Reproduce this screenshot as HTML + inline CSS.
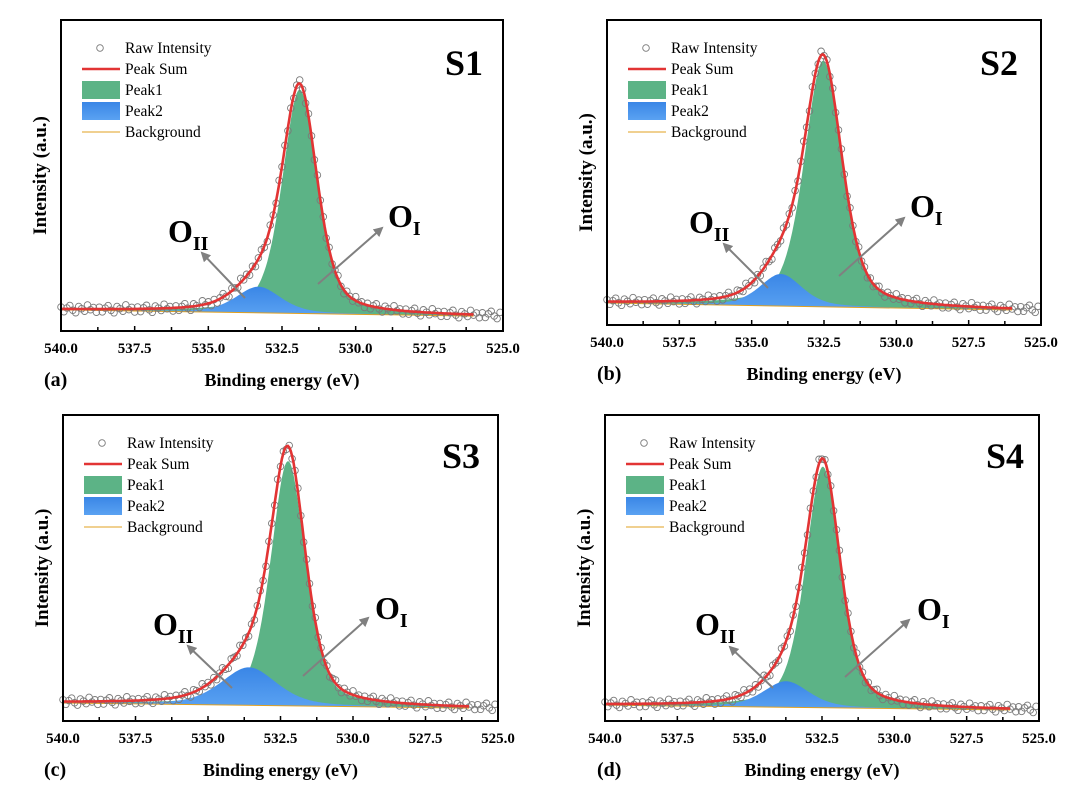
<!DOCTYPE html>
<html><head><meta charset="utf-8">
<style>
html,body{margin:0;padding:0;background:#fff;}
svg{display:block;font-family:"Liberation Serif",serif;}
</style></head>
<body>
<svg id="fig" width="1080" height="796" viewBox="0 0 1080 796" xmlns="http://www.w3.org/2000/svg">
<defs>
<linearGradient id="blueGrad" x1="0" y1="0" x2="0" y2="1">
<stop offset="0" stop-color="#3a86e6"/><stop offset="1" stop-color="#5aa2f2"/>
</linearGradient>
<marker id="arrowHead" viewBox="0 0 10 10" refX="8" refY="5" markerWidth="5" markerHeight="5" orient="auto">
<path d="M0,0 L10,5 L0,10 z" fill="#808080"/>
</marker>
</defs>
</svg>
<script>
// Per-sample fit parameters (intensity in % of frame height)
const sampleNames = ["S1","S2","S3","S4"];
const panelLetters = ["(a)","(b)","(c)","(d)"];
const peak1Center = [531.9, 532.53, 532.24, 532.47];
const peak1Height = [72, 80.7, 80, 78.8];
const peak1Fwhm = [1.4, 1.55, 1.42, 1.42];
const peak2Center = [533.3, 533.99, 533.59, 533.74];
const peak2Height = [8.4, 10.5, 12.4, 8.5];
const peak2Fwhm = [1.8, 1.73, 2.28, 1.87];
const bgLeft = [6.8, 7.2, 5.9, 5.2];
const bgRight = [4.8, 4.9, 4.2, 3.6];
const rawNoise = [0.6, -0.9, 0.3, 1.1, -0.4, -1.2, 0.8, 0.1, -0.7, 1.3, -0.2, 0.5, -1.0];
const xTicks = [540.0, 537.5, 535.0, 532.5, 530.0, 527.5, 525.0];
const xTickLabels = ["540.0","537.5","535.0","532.5","530.0","527.5","525.0"];
const xMinorTicks = [538.75, 536.25, 533.75, 531.25, 528.75, 526.25];
const legendLabels = ["Raw Intensity","Peak Sum","Peak1","Peak2","Background"];

const frames = [
 {x0:61,x1:503,y0:20,y1:331, oI:[318,284,382,228], oII:[245,298,202,253], oIlab:[388,227], oIIlab:[168,242], sx:483, sy:75, lx:44},
 {x0:607,x1:1041,y0:20,y1:325, oI:[839,276,904,218], oII:[768,288,724,244], oIlab:[910,217], oIIlab:[689,233], sx:1018, sy:75, lx:597},
 {x0:63,x1:498,y0:415,y1:721, oI:[303,676,368,618], oII:[232,688,188,646], oIlab:[375,619], oIIlab:[153,635], sx:480, sy:468, lx:44},
 {x0:605,x1:1039,y0:415,y1:721, oI:[845,677,909,620], oII:[773,688,730,647], oIlab:[917,620], oIIlab:[695,635], sx:1024, sy:468, lx:597}
];
const NS="http://www.w3.org/2000/svg";
const svg=document.getElementById('fig');
function mk(tag,attrs,parent,text){const e=document.createElementNS(NS,tag);for(const k in attrs)e.setAttribute(k,attrs[k]);if(text!==undefined)e.textContent=text;(parent||svg).appendChild(e);return e;}
function pv(x,c,h,w){const eta=0.45;const d=(x-c)/(w/2);return h*(eta/(1+d*d)+(1-eta)*Math.exp(-Math.LN2*d*d));}

frames.forEach((f,i)=>{
  const g=mk('g',{});
  
  
  const X=e=>f.x0+(540-e)/15*(f.x1-f.x0);
  const Y=v=>f.y1-v/100*(f.y1-f.y0);
  const bg=e=>bgLeft[i]+(bgRight[i]-bgLeft[i])*(540-e)/14;
  const p1=e=>pv(e,peak1Center[i],peak1Height[i],peak1Fwhm[i]);
  const p2=e=>pv(e,peak2Center[i],peak2Height[i],peak2Fwhm[i]);
  const es=[];for(let k=0;k<=280;k++)es.push(540-k*0.05);
  let d='M'+X(540)+','+Y(bg(540));es.forEach(e=>d+='L'+X(e).toFixed(1)+','+Y(bg(e)+p1(e)).toFixed(1));
  for(let k=es.length-1;k>=0;k--)d+='L'+X(es[k]).toFixed(1)+','+Y(bg(es[k])).toFixed(1);
  const a1=mk('path',{d:d+'Z',fill:'#5cb386'},g);
  
  d='M'+X(540)+','+Y(bg(540));es.forEach(e=>d+='L'+X(e).toFixed(1)+','+Y(bg(e)+p2(e)).toFixed(1));
  for(let k=es.length-1;k>=0;k--)d+='L'+X(es[k]).toFixed(1)+','+Y(bg(es[k])).toFixed(1);
  const a2=mk('path',{d:d+'Z',fill:'url(#blueGrad)'},g);
  
  const bl=mk('line',{x1:X(540),y1:Y(bg(540)),x2:X(526),y2:Y(bg(526)),stroke:'#e0a020','stroke-width':1},g);
  
  let n=0;
  for(let e=540;e>=525.05;e-=0.1){
    const v=bg(Math.max(e,526))+p1(e)+p2(e)+rawNoise[n%rawNoise.length];
    const c=mk('circle',{cx:X(e).toFixed(1),cy:Y(v).toFixed(1),r:3.3,fill:'none',stroke:'#7a7a7a','stroke-width':0.9},g);
    
    n++;
  }
  d='';es.forEach((e,k)=>d+=(k?'L':'M')+X(e).toFixed(1)+','+Y(bg(e)+p1(e)+p2(e)).toFixed(1));
  const ps=mk('path',{d:d,fill:'none',stroke:'#e23434','stroke-width':2.6},g);
  
  const fr=mk('rect',{x:f.x0,y:f.y0,width:f.x1-f.x0,height:f.y1-f.y0,fill:'none',stroke:'#000','stroke-width':2},g);
  
  xTicks.forEach((t,k)=>{
    const tl=mk('line',{x1:X(t),x2:X(t),y1:f.y1,y2:f.y1-5,stroke:'#000','stroke-width':1.5},g);
    
    const tx=mk('text',{x:X(t),y:f.y1+22,'text-anchor':'middle','font-size':15,'font-weight':'bold'},g,xTickLabels[k]);
    
  });
  xMinorTicks.forEach(t=>{
    const tl=mk('line',{x1:X(t),x2:X(t),y1:f.y1,y2:f.y1-4,stroke:'#000','stroke-width':1.5},g);
    
  });
  const xt=mk('text',{x:(f.x0+f.x1)/2,y:f.y1+55,'text-anchor':'middle','font-size':18,'font-weight':'bold'},g,'Binding energy (eV)');
  
  const cy=(f.y0+f.y1)/2, yx=f.x0-15;
  const yt=mk('text',{x:yx,y:cy,'text-anchor':'middle','font-size':19,'font-weight':'bold',transform:`rotate(-90 ${yx} ${cy})`},g,'Intensity (a.u.)');
  
  const pl=mk('text',{x:f.lx,y:f.y1+55,'font-size':20,'font-weight':'bold'},g,panelLetters[i]);
  
  const sl=mk('text',{x:f.sx,y:f.sy,'text-anchor':'end','font-size':36,'font-weight':'bold'},g,sampleNames[i]);
  
  const lx=f.x0+21, ly=f.y0+28;
  legendLabels.forEach((lab,k)=>{
    const yy=ly+k*21;
    let m;
    if(k===0)m=mk('circle',{cx:lx+18,cy:yy,r:3.3,fill:'none',stroke:'#7a7a7a','stroke-width':0.9},g);
    else if(k===1)m=mk('line',{x1:lx,x2:lx+38,y1:yy,y2:yy,stroke:'#e23434','stroke-width':2.6},g);
    else if(k===2)m=mk('rect',{x:lx,y:yy-9,width:38,height:18,fill:'#5cb386'},g);
    else if(k===3)m=mk('rect',{x:lx,y:yy-9,width:38,height:18,fill:'url(#blueGrad)'},g);
    else m=mk('line',{x1:lx,x2:lx+38,y1:yy,y2:yy,stroke:'#e0a020','stroke-width':1},g);
    
    const t=mk('text',{x:lx+43,y:yy+5,'font-size':15.5},g,lab);
    
  });
  [[f.oI,'arrow-o1'],[f.oII,'arrow-o2']].forEach(([p,nm])=>{
    const l=mk('line',{x1:p[0],y1:p[1],x2:p[2],y2:p[3],stroke:'#808080','stroke-width':2,'marker-end':'url(#arrowHead)'},g);
    
  });
  const t1=mk('text',{x:f.oIlab[0],y:f.oIlab[1],'font-size':32,'font-weight':'bold'},g);
  
  mk('tspan',{},t1,'O');mk('tspan',{dy:8,'font-size':20},t1,'I');
  const t2=mk('text',{x:f.oIIlab[0],y:f.oIIlab[1],'font-size':32,'font-weight':'bold'},g);
  
  mk('tspan',{},t2,'O');mk('tspan',{dy:8,'font-size':20},t2,'II');
});
</script>
</body></html>
